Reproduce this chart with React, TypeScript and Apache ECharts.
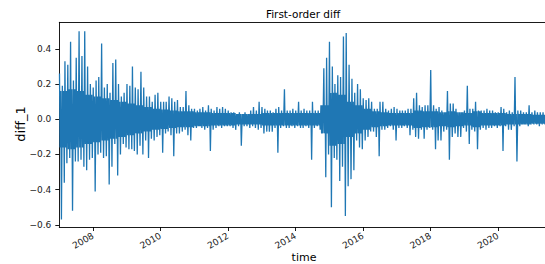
import React, { useEffect, useRef } from "react";
import * as echarts from "echarts";

// Monthly extremes of the first-order difference, Jan 2007 .. May 2021
const monthlyHighs: number[] = [
  0.26, 0.19, 0.33, 0.31, 0.44, 0.22, 0.35, 0.5, 0.36, 0.5, 0.3, 0.2, // 2007
  0.18, 0.22, 0.24, 0.43, 0.18, 0.2, 0.15, 0.32, 0.34, 0.2, 0.13, 0.15, // 2008
  0.2, 0.19, 0.3, 0.18, 0.17, 0.27, 0.18, 0.13, 0.13, 0.1, 0.14, 0.15, // 2009
  0.1, 0.1, 0.1, 0.13, 0.12, 0.1, 0.11, 0.07, 0.07, 0.16, 0.08, 0.06, // 2010
  0.06, 0.05, 0.06, 0.07, 0.05, 0.08, 0.06, 0.05, 0.07, 0.06, 0.07, 0.06, // 2011
  0.05, 0.04, 0.04, 0.03, 0.04, 0.03, 0.04, 0.03, 0.05, 0.07, 0.05, 0.1, // 2012
  0.07, 0.06, 0.05, 0.05, 0.04, 0.06, 0.07, 0.05, 0.17, 0.05, 0.05, 0.06, // 2013
  0.05, 0.1, 0.05, 0.06, 0.05, 0.05, 0.1, 0.05, 0.05, 0.08, 0.29, 0.35, // 2014
  0.44, 0.3, 0.2, 0.25, 0.24, 0.47, 0.49, 0.31, 0.23, 0.15, 0.2, 0.17, // 2015
  0.12, 0.11, 0.12, 0.1, 0.06, 0.06, 0.1, 0.1, 0.06, 0.05, 0.06, 0.07, // 2016
  0.06, 0.05, 0.05, 0.05, 0.06, 0.06, 0.12, 0.15, 0.08, 0.07, 0.08, 0.08, // 2017
  0.28, 0.08, 0.06, 0.07, 0.05, 0.04, 0.16, 0.09, 0.09, 0.06, 0.04, 0.04, // 2018
  0.05, 0.19, 0.06, 0.06, 0.1, 0.05, 0.05, 0.05, 0.06, 0.05, 0.05, 0.04, // 2019
  0.04, 0.07, 0.06, 0.04, 0.05, 0.04, 0.24, 0.05, 0.05, 0.04, 0.04, 0.08, // 2020
  0.04, 0.05, 0.04, 0.04, 0.04, // 2021
];

const monthlyLows: number[] = [
  -0.57, -0.36, -0.25, -0.22, -0.52, -0.24, -0.24, -0.23, -0.27, -0.29, -0.23, -0.22, // 2007
  -0.41, -0.2, -0.19, -0.22, -0.21, -0.37, -0.27, -0.14, -0.32, -0.2, -0.14, -0.16, // 2008
  -0.17, -0.17, -0.18, -0.2, -0.15, -0.2, -0.12, -0.22, -0.11, -0.12, -0.1, -0.09, // 2009
  -0.19, -0.08, -0.07, -0.09, -0.21, -0.08, -0.08, -0.07, -0.06, -0.09, -0.12, -0.05, // 2010
  -0.05, -0.04, -0.05, -0.06, -0.05, -0.18, -0.06, -0.05, -0.04, -0.05, -0.04, -0.04, // 2011
  -0.04, -0.05, -0.06, -0.04, -0.15, -0.04, -0.04, -0.05, -0.04, -0.05, -0.06, -0.05, // 2012
  -0.08, -0.07, -0.07, -0.07, -0.05, -0.19, -0.05, -0.04, -0.05, -0.05, -0.04, -0.05, // 2013
  -0.04, -0.05, -0.05, -0.04, -0.05, -0.23, -0.05, -0.04, -0.06, -0.08, -0.33, -0.2, // 2014
  -0.5, -0.22, -0.23, -0.35, -0.27, -0.55, -0.38, -0.34, -0.29, -0.12, -0.16, -0.17, // 2015
  -0.12, -0.1, -0.07, -0.07, -0.1, -0.21, -0.06, -0.06, -0.05, -0.04, -0.06, -0.12, // 2016
  -0.05, -0.05, -0.04, -0.05, -0.09, -0.06, -0.1, -0.11, -0.06, -0.11, -0.06, -0.05, // 2017
  -0.06, -0.17, -0.12, -0.12, -0.07, -0.06, -0.23, -0.1, -0.08, -0.1, -0.1, -0.05, // 2018
  -0.07, -0.14, -0.06, -0.07, -0.17, -0.06, -0.05, -0.06, -0.05, -0.05, -0.04, -0.05, // 2019
  -0.04, -0.18, -0.04, -0.06, -0.06, -0.04, -0.24, -0.04, -0.03, -0.03, -0.04, -0.03, // 2020
  -0.03, -0.03, -0.04, -0.03, -0.03, // 2021
];

// Typical amplitude of the dense core band, per quarter (2007Q1 .. 2021Q2)
const quarterCore: number[] = [
  0.16, 0.17, 0.16, 0.14, // 2007
  0.13, 0.12, 0.11, 0.1, // 2008
  0.09, 0.08, 0.07, 0.06, // 2009
  0.055, 0.05, 0.045, 0.045, // 2010
  0.04, 0.04, 0.035, 0.035, // 2011
  0.035, 0.03, 0.03, 0.03, // 2012
  0.035, 0.035, 0.035, 0.035, // 2013
  0.035, 0.035, 0.035, 0.08, // 2014
  0.15, 0.14, 0.1, 0.08, // 2015
  0.06, 0.045, 0.04, 0.035, // 2016
  0.035, 0.035, 0.05, 0.045, // 2017
  0.045, 0.04, 0.045, 0.04, // 2018
  0.035, 0.045, 0.035, 0.035, // 2019
  0.035, 0.03, 0.03, 0.03, // 2020
  0.025, 0.025, // 2021
];

const startYear = 2007;
const xTickYears = [2008, 2010, 2012, 2014, 2016, 2018, 2020];
const yTickValues = [-0.6, -0.4, -0.2, 0.0, 0.2, 0.4];

const Y_MIN = -0.612;
const Y_MAX = 0.551;

const FONT = '"DejaVu Sans", sans-serif';

// calendar date -> decimal year
function decYear(year: number, month: number, day: number): number {
  const t = Date.UTC(year, month, day);
  const y = new Date(t).getUTCFullYear();
  const a = Date.UTC(y, 0, 1);
  const b = Date.UTC(y + 1, 0, 1);
  return y + (t - a) / (b - a);
}

const X_MIN = decYear(2007, 0, 1);
const X_MAX = decYear(2021, 4, 24);

export default function App() {
  const ref = useRef<HTMLDivElement>(null);

  useEffect(() => {
    if (!ref.current) return;
    const chart = echarts.init(ref.current, null, { renderer: "svg" });

    const data: [number, number][] = [];
    monthlyHighs.forEach((h, i) => {
      const c = quarterCore[Math.floor(i / 3)];
      data.push([decYear(startYear, i, 3), h]);
      data.push([decYear(startYear, i, 10), -c]);
      data.push([decYear(startYear, i, 17), c]);
      data.push([decYear(startYear, i, 24), monthlyLows[i]]);
    });

    const fmtY = (v: number) =>
      (v < -1e-9 ? "\u2212" : "") + Math.abs(v).toFixed(1);

    chart.setOption({
      animation: false,
      grid: { left: 59.3, right: 0, top: 22.3, bottom: 37, containLabel: false },
      xAxis: [
        {
          type: "value",
          min: X_MIN,
          max: X_MAX,
          position: "bottom",
          axisLine: { show: true, onZero: false, lineStyle: { color: "#000", width: 0.9 } },
          axisTick: {
            show: true,
            length: 4,
            customValues: xTickYears,
            lineStyle: { color: "#000", width: 0.9 },
          },
          axisLabel: {
            customValues: xTickYears,
            rotate: 30,
            margin: 8,
            color: "#222",
            fontSize: 9,
            fontFamily: FONT,
            formatter: (v: number) => String(Math.round(v)),
          },
          splitLine: { show: false },
        },
        {
          type: "value",
          min: X_MIN,
          max: X_MAX,
          position: "top",
          axisLine: { show: true, onZero: false, lineStyle: { color: "#000", width: 0.9 } },
          axisTick: { show: false },
          axisLabel: { show: false },
          splitLine: { show: false },
        },
      ],
      yAxis: {
        type: "value",
        min: Y_MIN,
        max: Y_MAX,
        axisLine: { show: true, onZero: false, lineStyle: { color: "#000", width: 0.9 } },
        axisTick: {
          show: true,
          length: 4,
          customValues: yTickValues,
          lineStyle: { color: "#000", width: 0.9 },
        },
        axisLabel: {
          customValues: yTickValues,
          margin: 8,
          color: "#222",
          fontSize: 9,
          fontFamily: FONT,
          formatter: fmtY,
        },
        splitLine: { show: false },
      },
      series: [
        {
          type: "line",
          xAxisIndex: 0,
          data,
          showSymbol: false,
          symbol: "none",
          lineStyle: { color: "#1f77b4", width: 1.3 },
          clip: true,
        },
      ],
      graphic: [
        {
          type: "text",
          x: 303,
          y: 13.5,
          style: {
            text: "First-order diff",
            font: `10.5px ${FONT}`,
            fill: "#000",
            textAlign: "center",
            textVerticalAlign: "middle",
          },
        },
        {
          type: "text",
          x: 304,
          y: 257,
          style: {
            text: "time",
            font: `11px ${FONT}`,
            fill: "#000",
            textAlign: "center",
            textVerticalAlign: "middle",
          },
        },
        {
          type: "text",
          x: 20.7,
          y: 124,
          rotation: Math.PI / 2,
          style: {
            text: "diff_1",
            font: `13px ${FONT}`,
            fill: "#000",
            textAlign: "center",
            textVerticalAlign: "middle",
          },
        },
      ],
    });

    return () => {
      chart.dispose();
    };
  }, []);

  return (
    <div
      ref={ref}
      style={{ position: "absolute", left: 0, top: 0, width: 545, height: 264 }}
    />
  );
}
